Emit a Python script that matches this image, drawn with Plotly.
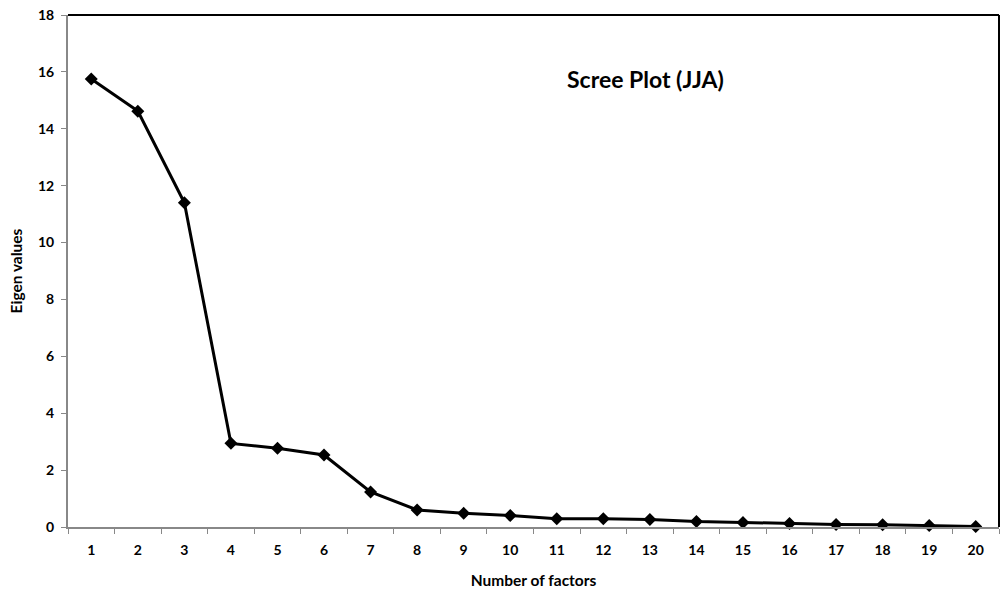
import plotly.graph_objects as go

factors = [str(i) for i in range(1, 21)]
eigen = [15.75, 14.62, 11.40, 2.94, 2.77, 2.53, 1.23, 0.60, 0.48, 0.40,
         0.29, 0.29, 0.26, 0.19, 0.16, 0.12, 0.09, 0.08, 0.05, 0.02]
y_ticks = [0, 2, 4, 6, 8, 10, 12, 14, 16, 18]

FONT = "Lato"

fig = go.Figure()
fig.add_trace(go.Scatter(
    x=factors, y=eigen, mode="lines+markers",
    line=dict(color="black", width=3),
    marker=dict(symbol="diamond", size=10, color="black"),
    showlegend=False, hoverinfo="x+y", cliponaxis=False,
))

fig.update_layout(
    width=1002, height=607,
    margin=dict(l=68, r=3, t=15, b=80),
    paper_bgcolor="white", plot_bgcolor="white",
    font=dict(family=FONT, color="black"),
    xaxis=dict(
        type="category", range=[-0.5, 19.5], tickson="boundaries", ticks="outside", ticklen=5,
        tickcolor="#888888", showgrid=False, zeroline=False,
        showline=True, linecolor="#888888", linewidth=2,
        tickfont=dict(family=FONT, size=14, color="black", weight="bold"),
        ticklabelstandoff=9,
        title=dict(text="<b>Number of factors</b>", font=dict(family=FONT, size=15.5), standoff=18),
    ),
    yaxis=dict(
        range=[0, 18], tickvals=y_ticks, ticks="outside", ticklen=5,
        tickcolor="#888888", showgrid=False, zeroline=False,
        showline=True, linecolor="#888888", linewidth=2,
        tickfont=dict(family=FONT, size=14, color="black", weight="bold"),
        ticklabelstandoff=4,
        title=dict(text="<b>Eigen values</b>", font=dict(family=FONT, size=15.5), standoff=12),
    ),
    shapes=[
        dict(type="line", xref="paper", yref="paper", x0=0, x1=1, y0=1, y1=1,
             line=dict(color="black", width=2)),
        dict(type="line", xref="paper", yref="paper", x0=1, x1=1, y0=0, y1=1,
             line=dict(color="black", width=2)),
    ],
    annotations=[
        dict(text="<b>Scree Plot (JJA)</b>", xref="paper", yref="paper",
             x=0.62, y=0.875, xanchor="center", yanchor="middle", showarrow=False,
             font=dict(family=FONT, size=23, color="black")),
    ],
)

fig.write_html("out.html")
